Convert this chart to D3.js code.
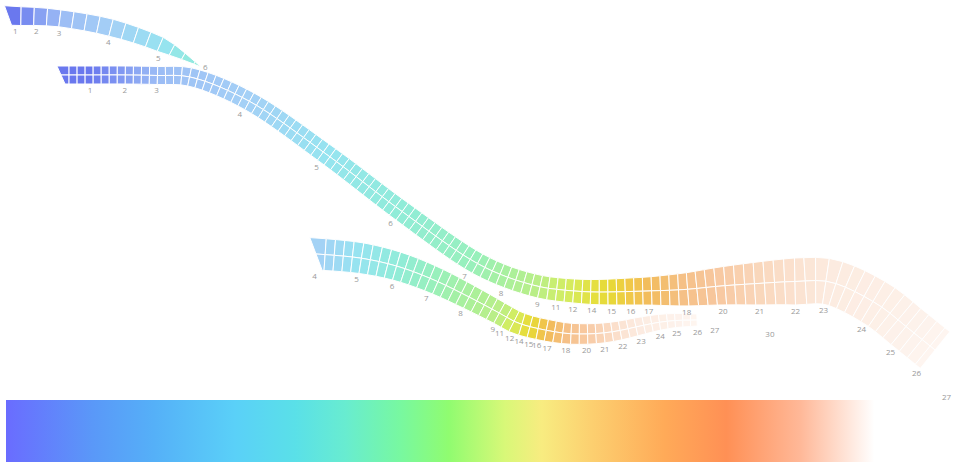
<!DOCTYPE html>
<html>
<head>
<meta charset="utf-8">
<script src="https://cdnjs.cloudflare.com/ajax/libs/d3/7.8.5/d3.min.js"></script>
<style>
  body { margin: 0; background: #fff; }
  svg { display: block; }
  .day-label { font-family: "Open Sans", sans-serif; font-size: 8px; fill: #999; }
</style>
</head>
<body>
<svg id="chart"></svg>
<script>
// track nodes: [day, x, y, width]  (non integer days carry no label)
const trackA = [
    [0.7, 8, 15.5, 19], [1, 16, 16, 19], [2, 37, 16.5, 18], [3, 61, 18.5, 17],
    [4, 112, 28, 17.5], [5, 164, 46, 15], [6, 201, 67, 0]
];
const trackB = [
    [0.2, 61, 75, 18], [1, 90, 75, 18], [2, 125, 75, 18], [3, 157, 75.5, 18],
    [3.4, 190, 77, 18.5], [4, 247, 100, 19], [5, 326, 154, 20], [6, 400, 210, 21],
    [7, 473, 261, 22], [8, 507, 277, 22], [9, 541, 287, 23], [11, 558, 289.5, 23.5],
    [12, 574, 291, 24], [14, 592, 292, 25], [15, 611, 292, 26], [16, 630, 291.5, 27],
    [17, 648, 291, 28], [18, 685, 289.5, 33], [20, 721, 286, 38], [21, 758, 283.5, 43],
    [22, 795, 281.5, 47], [23, 830, 282, 46], [24, 877, 304, 47], [25, 909, 329, 47],
    [26, 935, 350, 47], [27, 965, 374, 47]
];
const trackC = [
    [4, 316, 254, 32], [5, 360, 258, 31], [6, 398, 266.5, 29], [7, 434, 280, 27],
    [8, 469, 297, 25], [9, 501, 314, 23], [11, 508, 318, 23], [12, 516.5, 322.5, 23],
    [14, 524, 325, 22.5], [15, 533, 327.5, 22], [16, 540, 329, 22], [17, 550, 331, 22],
    [18, 567, 333.5, 21], [20, 586, 334, 20.5], [21, 603, 333, 20], [22, 620, 330.5, 19],
    [23, 638, 326.5, 18], [24, 658, 322.5, 16], [25, 676, 320.5, 14], [26, 697, 320, 12],
    [27, 715, 319, 10], [30, 771, 324, 8]
];

// last day that still has cells on the ribbon
const lastCellDay = 26;

// day -> cell colour
const colorDays = [1, 2, 3, 4, 5, 6, 7, 8, 9, 11, 12, 14, 15, 16, 17, 18, 20, 21, 22, 23, 24, 25, 26];
const colorHex = ["#6a78ee", "#849cf2", "#9cbcf5", "#a4d0f6", "#96e4f0", "#90ecd8", "#98f0bc", "#aaf09c",
    "#bcee84", "#cdee6a", "#d8ea58", "#e4e040", "#e8d838", "#f0c848", "#f2bc5c", "#f5c088",
    "#f8c9a2", "#f9d6ba", "#fbe2d0", "#fcebe0", "#fdefe6", "#fdf2eb", "#fef5f0"];

// legend gradient stops
const legendStops = [0, 0.091, 0.156, 0.241, 0.305, 0.358, 0.416, 0.467, 0.526, 0.565, 0.617, 0.695, 0.760, 0.838, 0.916, 1];
const legendHex = ["#6a6cff", "#5a98f8", "#55b0f8", "#5ad0f8", "#5ae0e8", "#68ecd0", "#78f8a0", "#90fc70",
    "#d8f878", "#f8ec80", "#fcd070", "#ffaa58", "#ff9055", "#ffb898", "#ffffff", "#ffffff"];

const width = 960;
const height = 468;

const svg = d3.select("#chart")
    .attr("width", width)
    .attr("height", height);

const x = d3.scaleLinear().domain([0, 960]).range([0, width]);
const y = d3.scaleLinear().domain([0, 468]).range([0, height]);

const dayColor = d3.scaleLinear()
    .domain(colorDays)
    .range(colorHex)
    .interpolate(d3.interpolateRgb)
    .clamp(true);

const line = d3.line()
    .x(d => x(d[1]))
    .y(d => y(d[2]))
    .curve(d3.curveCatmullRom.alpha(0.5));

// legend
const grad = svg.append("defs").append("linearGradient").attr("id", "legend-grad");
grad.selectAll("stop")
    .data(legendStops)
    .join("stop")
    .attr("offset", d => d)
    .attr("stop-color", (d, i) => legendHex[i]);

svg.append("rect")
    .attr("x", 6).attr("y", 400)
    .attr("width", 948).attr("height", 62)
    .attr("fill", "url(#legend-grad)");

const probe = svg.append("path").attr("fill", "none").attr("stroke", "none");
const cellLayer = svg.append("g");
const labelLayer = svg.append("g");

function buildTrack(nodes, rows, cellLen) {
    probe.attr("d", line(nodes));
    const el = probe.node();
    const L = el.getTotalLength();

    // dense samples to locate nodes along the curve
    const step = 0.5;
    const samples = d3.range(0, L, step).concat([L]).map(s => {
        const p = el.getPointAtLength(s);
        return { s: s, x: p.x, y: p.y };
    });
    let j = 0;
    const nodeS = nodes.map((d, i) => {
        if (i === 0) return 0;
        if (i === nodes.length - 1) return L;
        const px = x(d[1]), py = y(d[2]);
        let best = j, bd = Infinity;
        for (let k = j; k < samples.length; k++) {
            const dd = (samples[k].x - px) ** 2 + (samples[k].y - py) ** 2;
            if (dd < bd) { bd = dd; best = k; }
            if (bd < 1 && dd > 100) break;
        }
        j = best + 1;
        return samples[best].s;
    });

    const dayAt = d3.scaleLinear().domain(nodeS).range(nodes.map(d => d[0]));
    const widthAt = d3.scaleLinear().domain(nodeS).range(nodes.map(d => d[3]));
    const sAtDay = d3.scaleLinear().domain(nodes.map(d => d[0])).range(nodeS).clamp(true);
    const ribbonEnd = Math.min(L, sAtDay(lastCellDay));

    function frame(s) {
        const a = el.getPointAtLength(Math.max(0, s - 1));
        const b = el.getPointAtLength(Math.min(L, s + 1));
        const p = el.getPointAtLength(s);
        let tx = b.x - a.x, ty = b.y - a.y;
        const m = Math.hypot(tx, ty) || 1;
        tx /= m; ty /= m;
        return { x: p.x, y: p.y, tx: tx, ty: ty, nx: -ty, ny: tx };
    }

    // cell boundaries along the spine
    const bounds = [0];
    let s = 0;
    while (true) {
        s += cellLen(widthAt(s));
        if (s >= ribbonEnd - 2) { bounds.push(ribbonEnd); break; }
        bounds.push(s);
    }

    const edges = bounds.map((s, bi) => {
        const f = frame(s);
        const w = widthAt(s);
        const offs = rows === 2 ? [-w / 2, 0, w / 2] : [-w / 2, w / 2];
        return offs.map(o => {
            const skew = bi === 0 ? o * 0.45 : 0; // slanted start cap
            return [f.x + f.nx * o + f.tx * skew, f.y + f.ny * o + f.ty * skew];
        });
    });

    const cells = [];
    for (let i = 0; i < bounds.length - 1; i++) {
        const c = dayColor(dayAt((bounds[i] + bounds[i + 1]) / 2));
        for (let r = 0; r < rows; r++) {
            cells.push({ pts: [edges[i][r], edges[i + 1][r], edges[i + 1][r + 1], edges[i][r + 1]], color: c });
        }
    }

    cellLayer.append("g")
        .selectAll("path")
        .data(cells)
        .join("path")
        .attr("d", d => "M" + d.pts.map(p => p[0].toFixed(2) + "," + p[1].toFixed(2)).join("L") + "Z")
        .attr("fill", d => d.color)
        .attr("stroke", "#fff")
        .attr("stroke-width", 1);

    const labels = nodes
        .map((d, i) => ({ day: d[0], s: nodeS[i], w: d[3] }))
        .filter(d => Number.isInteger(d.day));

    labelLayer.append("g")
        .selectAll("text")
        .data(labels)
        .join("text")
        .attr("class", "day-label")
        .each(function (d) {
            const f = frame(d.s);
            let lx, ly;
            if (d.w > 0) {
                const off = d.w / 2 + 6;
                lx = f.x + f.nx * off;
                ly = f.y + f.ny * off;
            } else {
                // tapered tip: label sits just past the point
                lx = f.x + f.tx * 5;
                ly = f.y + f.ty * 1;
            }
            d3.select(this)
                .attr("x", lx)
                .attr("y", ly)
                .attr("dy", "0.35em")
                .attr("text-anchor", "middle")
                .text(d.day);
        });
}

buildTrack(trackB, 2, w => 6.6 + 0.08 * w);
buildTrack(trackC, 2, w => 6.6 + 0.08 * w);
buildTrack(trackA, 1, () => 13);

probe.remove();
</script>
</body>
</html>
